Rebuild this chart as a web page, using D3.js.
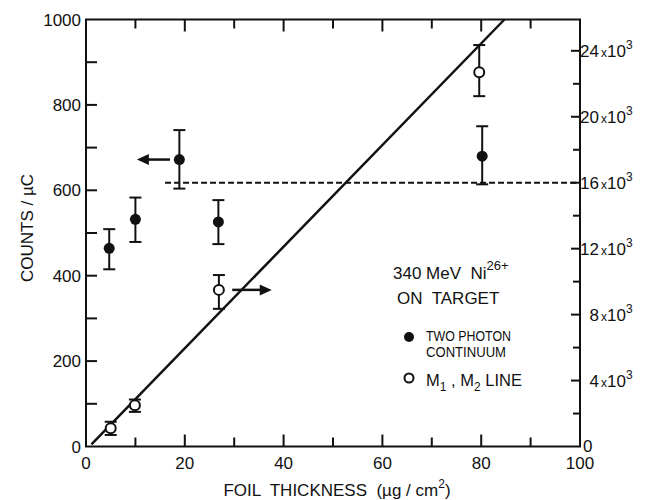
<!DOCTYPE html>
<html><head><meta charset="utf-8">
<script src="https://cdn.jsdelivr.net/npm/d3@7"></script>
<style>html,body{margin:0;padding:0;background:#fff;} svg{display:block;} text{font-family:"Liberation Sans",Arial,sans-serif;fill:#111;white-space:pre;}</style>
</head><body><svg id="c" width="650" height="500"></svg>
<script>
// ---- data ----
const thickness2g = [4.7, 10.0, 18.9, 26.8, 80.2];          // two-photon continuum x
const twoPhotonCounts = [464, 532, 672, 526, 680];           // left axis (counts / µC)
const twoPhotonLow = [415, 479, 604, 474, 614];
const twoPhotonHigh = [509, 583, 741, 577, 750];
const thicknessM = [5.0, 9.9, 26.9, 79.6];                    // M1,M2 line x
const mLineCounts = [1100, 2500, 9500, 22700];                // right axis
const mLineLow = [700, 2100, 8350, 21250];
const mLineHigh = [1500, 2850, 10400, 24350];
const fitX = [1.1, 84.7];
const fitY = [130, 25900];                                    // right axis
const dashX = [16, 100];
const dashY = 16000;                                          // right axis
const xTickLabels = ["0","20","40","60","80","100"];
const leftTickLabels = ["0","200","400","600","800","1000"];
const rightTickLabels = ["0","4","8","12","16","20","24"];

// ---- scales ----
const svg = d3.select("#c");
const x = d3.scaleLinear().domain([0,100]).range([86,580]);
const yL = d3.scaleLinear().domain([0,1000]).range([446.5,19.5]);
const yR = d3.scaleLinear().domain([0,25900]).range([446.5,19.5]);
const ink = "#111";

// frame
svg.append("rect").attr("x",x(0)).attr("y",yL(1000)).attr("width",x(100)-x(0)).attr("height",yL(0)-yL(1000))
  .attr("fill","none").attr("stroke",ink).attr("stroke-width",2);

// ticks
const g = svg.append("g").attr("stroke",ink).attr("stroke-width",2);
d3.range(10,100,10).forEach(v=>{
  const L = v%20===0?12:9;
  g.append("line").attr("x1",x(v)).attr("x2",x(v)).attr("y1",yL(0)).attr("y2",yL(0)-L);
  g.append("line").attr("x1",x(v)).attr("x2",x(v)).attr("y1",yL(1000)).attr("y2",yL(1000)+L);
});
d3.range(100,1000,100).forEach(v=>{
  g.append("line").attr("x1",x(0)).attr("x2",x(0)+11).attr("y1",yL(v)).attr("y2",yL(v));
});
d3.range(2000,26000,2000).forEach(v=>{
  const L = v%4000===0?9:7;
  g.append("line").attr("x1",x(100)).attr("x2",x(100)-L).attr("y1",yR(v)).attr("y2",yR(v));
});

// tick labels
const fs = 17;
xTickLabels.forEach((t,i)=>{
  svg.append("text").attr("x",x(i*20)).attr("y",469).attr("text-anchor","middle").attr("font-size",fs).text(t);
});
leftTickLabels.forEach((t,i)=>{
  svg.append("text").attr("x",81).attr("y",yL(i*200)+6).attr("text-anchor","end").attr("font-size",fs).text(t);
});
rightTickLabels.forEach((t,i)=>{
  const yy = yR(i*4000)+6;
  if(i===0){
    svg.append("text").attr("x",583).attr("y",yy-1).attr("font-size",fs).text(t);
    return;
  }
  svg.append("text").attr("x",599).attr("y",yy).attr("text-anchor","end").attr("font-size",fs).text(t);
  const tt = svg.append("text").attr("x",601).attr("y",yy).attr("font-size",fs);
  tt.append("tspan").attr("font-size",12).text("x");
  tt.append("tspan").text("10");
  tt.append("tspan").attr("font-size",12).attr("dy",-8).text("3");
});

// axis titles
svg.append("text").attr("transform","translate(33,228) rotate(-90)").attr("text-anchor","middle").attr("font-size",fs).text("COUNTS / µC");
const xt = svg.append("text").attr("x",337).attr("y",496).attr("text-anchor","middle").attr("font-size",fs);
xt.append("tspan").text("FOIL  THICKNESS  (µg / cm");
xt.append("tspan").attr("font-size",12).attr("dy",-8).text("2");
xt.append("tspan").attr("dy",8).text(")");

// dashed line
svg.append("line").attr("x1",x(dashX[0])).attr("x2",x(dashX[1])).attr("y1",yR(dashY)).attr("y2",yR(dashY))
  .attr("stroke",ink).attr("stroke-width",2).attr("stroke-dasharray","6,3");

// fit line
svg.append("path").attr("d",d3.line()(fitX.map((v,i)=>[x(v),yR(fitY[i])])))
  .attr("stroke",ink).attr("stroke-width",2.5).attr("fill","none");

// error bars
function errbar(xv, lo, hi, ys){
  const e = svg.append("g").attr("stroke",ink).attr("stroke-width",2);
  e.append("line").attr("x1",x(xv)).attr("x2",x(xv)).attr("y1",ys(lo)).attr("y2",ys(hi));
  [lo,hi].forEach(v=>e.append("line").attr("x1",x(xv)-6).attr("x2",x(xv)+6).attr("y1",ys(v)).attr("y2",ys(v)));
}
thickness2g.forEach((v,i)=>errbar(v,twoPhotonLow[i],twoPhotonHigh[i],yL));
thicknessM.forEach((v,i)=>errbar(v,mLineLow[i],mLineHigh[i],yR));

// points
thickness2g.forEach((v,i)=>svg.append("circle").attr("cx",x(v)).attr("cy",yL(twoPhotonCounts[i])).attr("r",5.5).attr("fill",ink));
thicknessM.forEach((v,i)=>svg.append("circle").attr("cx",x(v)).attr("cy",yR(mLineCounts[i])).attr("r",5).attr("fill","#fff").attr("stroke",ink).attr("stroke-width",2));

// arrows
function arrow(x0,x1,yy){
  const dir = Math.sign(x1-x0);
  svg.append("line").attr("x1",x0).attr("x2",x1-dir*10).attr("y1",yy).attr("y2",yy).attr("stroke",ink).attr("stroke-width",2.5);
  svg.append("path").attr("d",`M${x1},${yy}L${x1-dir*12},${yy-5.5}L${x1-dir*12},${yy+5.5}Z`).attr("fill",ink);
}
arrow(x(17.0), x(10.3), yL(twoPhotonCounts[2]));
arrow(x(29.6), x(37.6), yR(mLineCounts[2]));

// legend
const l1 = svg.append("text").attr("x",393).attr("y",279).attr("font-size",17);
l1.append("tspan").text("340 MeV  Ni");
l1.append("tspan").attr("font-size",13).attr("dy",-9).text("26+");
svg.append("text").attr("x",397).attr("y",304).attr("font-size",17).text("ON  TARGET");
svg.append("circle").attr("cx",409).attr("cy",337).attr("r",5).attr("fill",ink);
svg.append("text").attr("x",426).attr("y",341).attr("font-size",14).attr("textLength",85).attr("lengthAdjust","spacingAndGlyphs").text("TWO PHOTON");
svg.append("text").attr("x",426).attr("y",357).attr("font-size",14).attr("textLength",80).attr("lengthAdjust","spacingAndGlyphs").text("CONTINUUM");
svg.append("circle").attr("cx",409).attr("cy",378).attr("r",4.5).attr("fill","#fff").attr("stroke",ink).attr("stroke-width",2);
const l5 = svg.append("text").attr("x",426).attr("y",386).attr("font-size",16.5);
l5.append("tspan").text("M");
l5.append("tspan").attr("font-size",12).attr("dy",5).text("1");
l5.append("tspan").attr("dy",-5).text(" , M");
l5.append("tspan").attr("font-size",12).attr("dy",5).text("2");
l5.append("tspan").attr("dy",-5).text(" LINE");
</script></body></html>
